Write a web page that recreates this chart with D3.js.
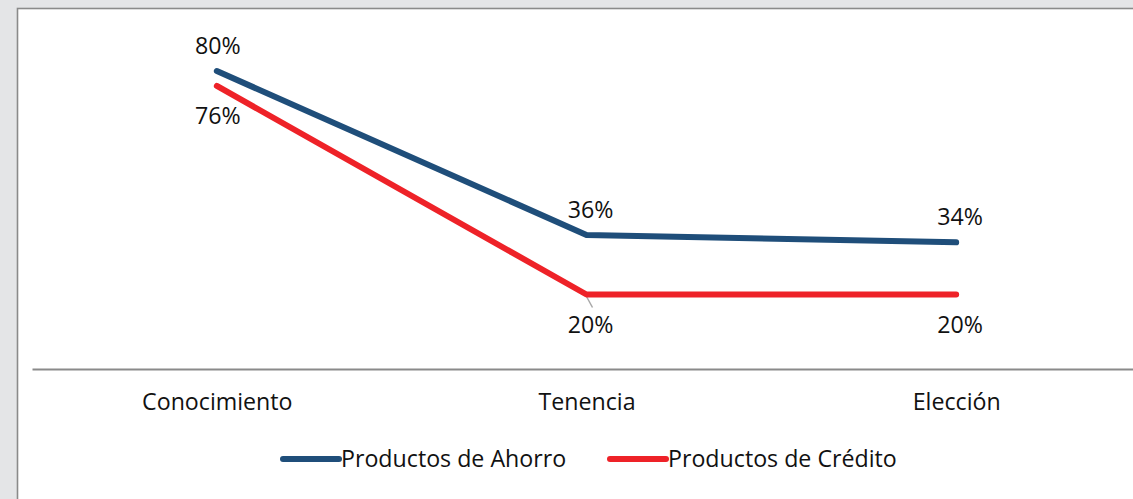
<!DOCTYPE html>
<html>
<head>
<meta charset="utf-8">
<script src="https://cdn.jsdelivr.net/npm/d3@7"></script>
<style>
  html, body { margin: 0; padding: 0; background: #e4e5e7; }
  svg { display: block; }
  text { font-family: "Open Sans", "Noto Sans", sans-serif; fill: #111; }
</style>
</head>
<body>
<svg id="chart" width="1133" height="499"></svg>
<script>
// Stages of the product funnel and the share reached at each stage (%)
const categories = ["Conocimiento", "Tenencia", "Elección"];
const ahorro = [80, 36, 34];
const credito = [76, 20, 20];
const seriesNames = ["Productos de Ahorro", "Productos de Crédito"];
const seriesColors = ["#1f4e7a", "#ee2228"];

const W = 1133, H = 499;
const FONT_SIZE = "23.2px";
const svg = d3.select("#chart");

// page background and chart frame
svg.append("rect").attr("width", W).attr("height", H).attr("fill", "#e4e5e7");
svg.append("rect")
  .attr("x", 17.5).attr("y", 8.5)
  .attr("width", W + 40).attr("height", H + 40)
  .attr("fill", "#ffffff")
  .attr("stroke", "#8a8a8a").attr("stroke-width", 1.6);

const axisY = 369;
const x = d3.scalePoint().domain(categories).range([32, 1141]).padding(0.5);
const y = d3.scaleLinear().domain([0, 90]).range([axisY, axisY - 90 * 3.725]);

// category axis
const axis = svg.append("g")
  .attr("transform", `translate(0,${axisY})`)
  .call(d3.axisBottom(x).tickSize(0).tickSizeOuter(0));
axis.select(".domain").attr("stroke", "#8a8a8a").attr("stroke-width", 2);
axis.selectAll("text")
  .attr("y", 41).attr("dy", 0)
  .style("font-family", '"Open Sans", "Noto Sans", sans-serif')
  .style("font-size", FONT_SIZE).attr("fill", "#111");

const series = [
  { name: seriesNames[0], values: ahorro, color: seriesColors[0], above: true },
  { name: seriesNames[1], values: credito, color: seriesColors[1], above: false }
];

const line = d3.line()
  .x((d, i) => x(categories[i]))
  .y(d => y(d));

// leader line from the Tenencia credit point to its label
svg.append("line")
  .attr("x1", x(categories[1])).attr("y1", y(credito[1]) + 2)
  .attr("x2", x(categories[1]) + 6).attr("y2", y(credito[1]) + 13)
  .attr("stroke", "#a8a8a8").attr("stroke-width", 1.5);

series.forEach(s => {
  svg.append("path")
    .datum(s.values)
    .attr("d", line)
    .attr("fill", "none")
    .attr("stroke", s.color)
    .attr("stroke-width", 6)
    .attr("stroke-linejoin", "round")
    .attr("stroke-linecap", "round");

  svg.append("g").selectAll("text")
    .data(s.values)
    .join("text")
    .attr("x", (d, i) => x(categories[i]) + (i === 0 ? 1 : 4))
    .attr("y", d => s.above ? y(d) - 17 : y(d) + 38)
    .attr("text-anchor", "middle")
    .style("font-size", FONT_SIZE)
    .text(d => d + "%");
});

// legend
const legendX = [283, 610];
const legendY = 459;
series.forEach((s, i) => {
  const g = svg.append("g").attr("transform", `translate(${legendX[i]},${legendY})`);
  g.append("line")
    .attr("x1", 0).attr("x2", 56)
    .attr("stroke", s.color).attr("stroke-width", 6)
    .attr("stroke-linecap", "round");
  g.append("text")
    .attr("x", 58).attr("y", 8)
    .style("font-size", FONT_SIZE)
    .text(s.name);
});
</script>
</body>
</html>
